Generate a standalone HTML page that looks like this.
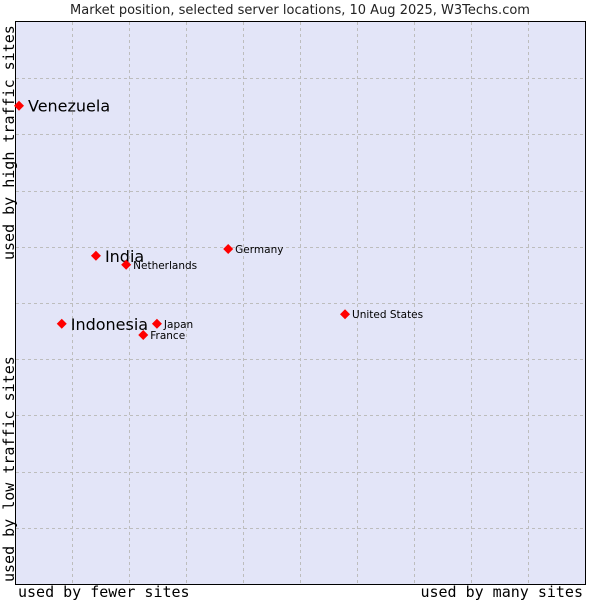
<!DOCTYPE html>
<html><head><meta charset="utf-8"><style>
body{margin:0;background:#fff;width:600px;height:600px;overflow:hidden}
svg text{font-family:"DejaVu Sans","Liberation Sans",sans-serif}
.mono{font-family:"DejaVu Sans Mono","Liberation Mono",monospace}
</style></head><body>
<svg id="c" width="600" height="600">
<text x="300" y="14" text-anchor="middle" font-size="13" fill="#222">Market position, selected server locations, 10 Aug 2025, W3Techs.com</text>
<rect x="15.5" y="21.5" width="570" height="563" fill="#e3e5f8" stroke="#000"/>
<g id="grid"></g>
<g id="pts"></g>
<text class="mono" x="18" y="597" font-size="15" fill="#000">used by fewer sites</text>
<text class="mono" x="583" y="597" font-size="15" fill="#000" text-anchor="end">used by many sites</text>
<text class="mono" transform="translate(14,260) rotate(-90)" font-size="15" fill="#000">used by high traffic sites</text>
<text class="mono" transform="translate(14,582) rotate(-90)" font-size="15" fill="#000">used by low traffic sites</text>
</svg>
<script>
const names=["Venezuela","India","Netherlands","Germany","Indonesia","Japan","France","United States"];
const xVals=[0.7,14.2,19.5,37.4,8.2,24.9,22.5,57.9];
const yVals=[85.1,58.4,56.8,59.6,46.3,46.3,44.3,48.0];
const bigLabel=[true,true,false,false,true,false,false,false];
const X0=15,X1=585,Y0=584,Y1=22;
const sx=v=>X0+v/100*(X1-X0), sy=v=>Y0-v/100*(Y0-Y1);
const ns="http://www.w3.org/2000/svg";
const g=document.getElementById('grid'),p=document.getElementById('pts');
for(let i=1;i<10;i++){
 const x=Math.round(sx(i*10))+0.5,y=Math.round(sy(i*10))+0.5;
 const a=document.createElementNS(ns,'line');
 
 
 a.setAttribute('x1',x);a.setAttribute('x2',x);a.setAttribute('y1',22);a.setAttribute('y2',584);
 a.setAttribute('stroke','#bdbdbd');a.setAttribute('stroke-dasharray','3,3');g.appendChild(a);
 const b=document.createElementNS(ns,'line');
 
 
 b.setAttribute('x1',16);b.setAttribute('x2',585);b.setAttribute('y1',y);b.setAttribute('y2',y);
 b.setAttribute('stroke','#bdbdbd');b.setAttribute('stroke-dasharray','3,3');g.appendChild(b);
}
names.forEach((n,i)=>{
 const x=sx(xVals[i]),y=sy(yVals[i]);
 const d=document.createElementNS(ns,'polygon');
 
 
 d.setAttribute('points',`${x},${y-5} ${x+5},${y} ${x},${y+5} ${x-5},${y}`);
 d.setAttribute('fill','#f00');p.appendChild(d);
 const t=document.createElementNS(ns,'text');
 
 
 if(bigLabel[i]){t.setAttribute('x',x+9);t.setAttribute('y',y+6);t.setAttribute('font-size','16');}
 else{t.setAttribute('x',x+7);t.setAttribute('y',y+4);t.setAttribute('font-size','10.5');}
 t.setAttribute('fill','#000');t.textContent=n;p.appendChild(t);
});
</script>
</body></html>
